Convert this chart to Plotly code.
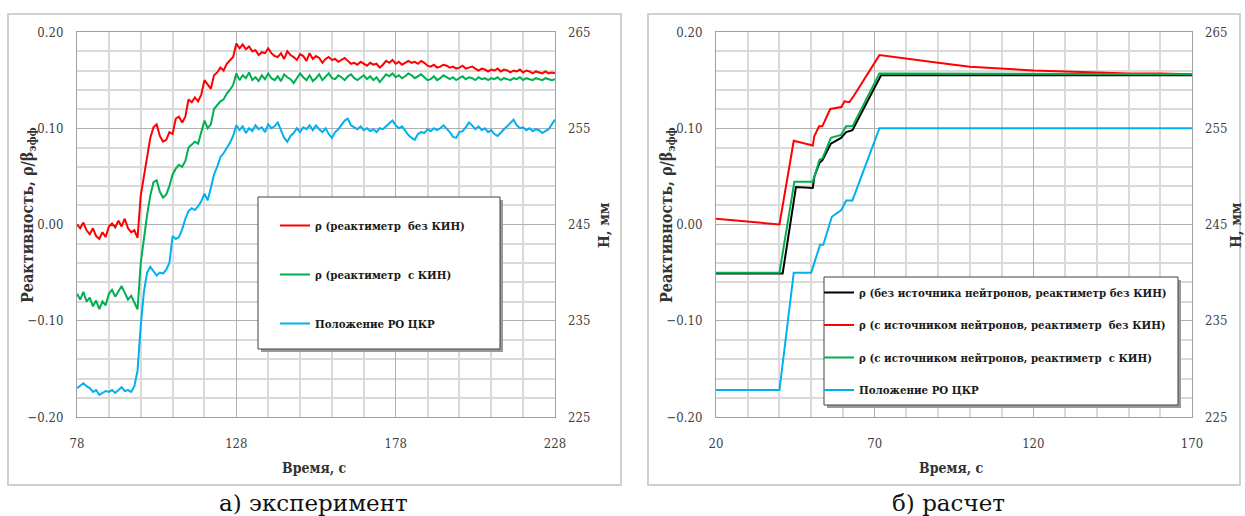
import plotly.graph_objects as go

W, H = 1245, 516

# ---------------- data: (a) experiment ----------------
exp_t_start = 78
exp_red = [
    0.000, -0.004, 0.002, -0.006, -0.010, -0.004, -0.012, -0.015, -0.008, -0.013,
    -0.002, 0.001, -0.003, 0.004, -0.002, 0.006, -0.004, -0.008, -0.006, -0.014,
    0.030, 0.050, 0.072, 0.090, 0.101, 0.104, 0.092, 0.086, 0.088, 0.096,
    0.094, 0.110, 0.112, 0.106, 0.112, 0.130, 0.127, 0.132, 0.128, 0.135,
    0.150, 0.146, 0.141, 0.155, 0.158, 0.163, 0.160, 0.167, 0.170, 0.174,
    0.188, 0.183, 0.187, 0.182, 0.185, 0.180, 0.181, 0.176, 0.179, 0.178,
    0.183, 0.178, 0.175, 0.174, 0.178, 0.172, 0.180, 0.176, 0.174, 0.171,
    0.177, 0.175, 0.170, 0.178, 0.172, 0.175, 0.173, 0.168, 0.172, 0.174,
    0.171, 0.172, 0.169, 0.171, 0.173, 0.170, 0.167, 0.168, 0.166, 0.169,
    0.167, 0.165, 0.168, 0.166, 0.167, 0.163, 0.166, 0.170, 0.168, 0.171,
    0.167, 0.169, 0.166, 0.168, 0.170, 0.168, 0.169, 0.167, 0.170, 0.168,
    0.165, 0.164, 0.166, 0.163, 0.164, 0.166, 0.165, 0.163, 0.164, 0.162,
    0.163, 0.165, 0.162, 0.163, 0.164, 0.162, 0.160, 0.162, 0.161, 0.159,
    0.161, 0.160, 0.162, 0.159, 0.161, 0.160, 0.158, 0.160, 0.159, 0.161,
    0.158, 0.160, 0.159, 0.157, 0.159, 0.158, 0.157, 0.159, 0.157, 0.158,
    0.157,
]
exp_green = [
    -0.072, -0.078, -0.070, -0.080, -0.076, -0.085, -0.079, -0.088, -0.080, -0.084,
    -0.072, -0.068, -0.075, -0.070, -0.064, -0.071, -0.078, -0.074, -0.082, -0.088,
    -0.040, -0.012, 0.010, 0.030, 0.044, 0.046, 0.034, 0.028, 0.031, 0.040,
    0.052, 0.058, 0.062, 0.060, 0.066, 0.080, 0.083, 0.086, 0.084, 0.096,
    0.108, 0.100, 0.104, 0.120, 0.124, 0.128, 0.130, 0.136, 0.140, 0.145,
    0.157, 0.150, 0.155, 0.152, 0.158, 0.150, 0.153, 0.149, 0.155, 0.151,
    0.157, 0.152, 0.150, 0.154, 0.149, 0.156, 0.153, 0.151, 0.147, 0.152,
    0.157, 0.153, 0.150, 0.155, 0.149, 0.152, 0.156, 0.150, 0.154, 0.157,
    0.152, 0.151, 0.155, 0.153, 0.150, 0.154, 0.156, 0.152, 0.150, 0.153,
    0.155, 0.151, 0.154, 0.150, 0.153, 0.148, 0.152, 0.156, 0.154, 0.157,
    0.153, 0.155, 0.152, 0.154, 0.157, 0.155, 0.152, 0.154, 0.156, 0.153,
    0.150, 0.151, 0.154, 0.150, 0.152, 0.155, 0.153, 0.151, 0.153, 0.150,
    0.152, 0.154, 0.151, 0.153, 0.152, 0.150, 0.153, 0.151, 0.152, 0.150,
    0.152, 0.151, 0.153, 0.150, 0.152, 0.151, 0.150, 0.152, 0.151, 0.153,
    0.150, 0.152, 0.151, 0.150, 0.152, 0.151, 0.150, 0.152, 0.151, 0.150,
    0.151,
]
exp_blue_mm = [
    228.0, 228.3, 228.5, 228.2, 228.0, 227.6, 227.8, 227.3, 227.5, 227.7,
    227.6, 227.8, 227.5, 227.8, 228.1, 227.7, 227.8, 227.6, 228.2, 229.8,
    234.5, 238.0, 240.0, 240.6, 240.2, 239.7, 240.0, 239.9, 240.3, 241.0,
    243.8, 243.5, 243.7, 244.5, 245.6, 246.4, 246.7, 246.5, 246.9, 247.4,
    248.2, 247.5, 248.8, 250.2, 251.0, 252.0, 252.4, 252.9, 253.5, 254.2,
    255.3, 254.8, 255.2, 254.5, 255.0, 254.7, 255.3, 254.9, 255.1, 254.6,
    255.4, 255.0, 255.2, 255.6, 254.7, 254.0, 253.6, 254.2, 254.5, 255.0,
    254.6, 255.1, 254.9, 255.3, 254.8, 255.3, 254.9, 254.6, 255.0, 254.4,
    254.0, 254.6, 254.9, 255.3, 255.8, 256.0, 255.3, 255.1, 254.9, 255.2,
    254.8, 255.0, 254.7, 254.9, 254.6, 255.0, 254.9, 255.2, 255.5, 255.8,
    255.3, 255.0, 255.2, 254.7, 254.3, 254.0, 253.8, 254.4, 254.6, 254.5,
    254.9, 254.7, 255.0, 254.8, 255.0, 255.3, 255.0, 254.6, 254.1, 254.0,
    254.6, 254.7, 255.1, 255.6, 255.3, 254.9, 255.2, 254.8, 255.0, 254.6,
    254.8, 254.4, 254.2, 254.6, 254.9, 255.2, 255.5, 255.9, 255.3, 255.0,
    255.1, 254.8, 255.0, 254.7, 254.9, 254.8, 254.5, 254.7, 254.9, 255.4,
    255.9,
]
exp_t = list(range(exp_t_start, exp_t_start + len(exp_red)))

# ---------------- data: (b) calculation ----------------
calc_black_t = [20, 41, 45.2, 50.5, 51.0, 52.6, 53.6, 56.2, 59.4, 61.0, 63.0, 72.0, 170]
calc_black = [-0.051, -0.051, 0.039, 0.038, 0.050, 0.064, 0.067, 0.084, 0.090, 0.096, 0.098, 0.155, 0.155]

calc_red_t = [20, 40, 44.5, 50.5, 51.0, 52.5, 53.5, 56.0, 59.5, 60.5, 62.0, 63.5, 71.5,
              80, 90, 100, 110, 120, 130, 140, 150, 160, 170]
calc_red = [0.006, 0.000, 0.087, 0.082, 0.092, 0.102, 0.102, 0.120, 0.122, 0.128, 0.127, 0.134, 0.176,
            0.172, 0.168, 0.164, 0.162, 0.160, 0.159, 0.158, 0.157, 0.157, 0.156]

calc_green_t = [20, 40, 44.7, 50.5, 51.5, 52.6, 53.6, 56.2, 59.4, 61.0, 63.0, 71.5, 170]
calc_green = [-0.050, -0.050, 0.0445, 0.0445, 0.055, 0.067, 0.069, 0.090, 0.093, 0.102, 0.102, 0.157, 0.156]

calc_blue_t = [20, 40, 44.5, 50, 52.8, 53.8, 56.5, 59.5, 61, 63, 71.5, 170]
calc_blue_mm = [227.8, 227.8, 240.0, 240.0, 242.9, 242.9, 245.8, 246.5, 247.5, 247.5, 255.0, 255.0]

# ---------------- text ----------------
names_a = ["ρ (реактиметр\u00a0 без КИН)", "ρ (реактиметр\u00a0 с КИН)", "Положение РО ЦКР"]
names_b = ["ρ (без источника нейтронов, реактиметр без КИН)",
           "ρ (с источником нейтронов, реактиметр\u00a0 без КИН)",
           "ρ (с источником нейтронов, реактиметр\u00a0 с КИН)",
           "Положение РО ЦКР"]
y_title = "Реактивность, ρ/β<sub>эфф</sub>"
y2_title = "Н, мм"
x_title = "Время, с"
captions = ["а) эксперимент", "б) расчет"]

RED, GREEN, BLUE, BLACK = "#ff0000", "#00b050", "#00b0f0", "#000000"
SERIF = "DejaVu Serif"
COND = "DejaVu Serif Condensed"


def px(x):
    return x / W


def py(y):
    return 1 - y / H


fig = go.Figure()

# panel a traces
fig.add_trace(go.Scatter(x=exp_t, y=exp_red, mode="lines", line=dict(color=RED, width=2),
                         name=names_a[0], xaxis="x", yaxis="y", legend="legend", legendgroup="a1"))
fig.add_trace(go.Scatter(x=exp_t, y=exp_green, mode="lines", line=dict(color=GREEN, width=2),
                         name=names_a[1], xaxis="x", yaxis="y", legend="legend", legendgroup="a2"))
fig.add_trace(go.Scatter(x=exp_t, y=exp_blue_mm, mode="lines", line=dict(color=BLUE, width=2),
                         name=names_a[2], xaxis="x", yaxis="y2", legend="legend", legendgroup="a3"))

# panel b traces
fig.add_trace(go.Scatter(x=calc_black_t, y=calc_black, mode="lines", line=dict(color=BLACK, width=2),
                         name=names_b[0], xaxis="x2", yaxis="y3", legend="legend2", legendgroup="b1"))
fig.add_trace(go.Scatter(x=calc_red_t, y=calc_red, mode="lines", line=dict(color=RED, width=2),
                         name=names_b[1], xaxis="x2", yaxis="y3", legend="legend2", legendgroup="b2"))
fig.add_trace(go.Scatter(x=calc_green_t, y=calc_green, mode="lines", line=dict(color=GREEN, width=2),
                         name=names_b[2], xaxis="x2", yaxis="y3", legend="legend2", legendgroup="b3"))
fig.add_trace(go.Scatter(x=calc_blue_t, y=calc_blue_mm, mode="lines", line=dict(color=BLUE, width=2),
                         name=names_b[3], xaxis="x2", yaxis="y4", legend="legend2", legendgroup="b4"))

TICKFONT = dict(family=COND, size=13, color="#404040")
MAJOR = "#b0b0b0"
MINOR = "#dadada"


def xaxis(dom, rng, tick0, anchor):
    return dict(domain=dom, range=rng, tick0=tick0, dtick=50, showgrid=True, gridcolor=MAJOR,
                gridwidth=1, minor=dict(dtick=10, tick0=tick0, showgrid=True, gridcolor=MINOR, gridwidth=1.5),
                zeroline=False, showline=True, mirror=True, linecolor="#a0a0a0", linewidth=1,
                ticks="", tickfont=TICKFONT, ticklabelstandoff=14, anchor=anchor,
                automargin=False, fixedrange=True)


def yaxis(dom, anchor):
    return dict(domain=dom, range=[-0.2, 0.2], dtick=0.1, tick0=0, tickformat=".2f",
                showgrid=True, gridcolor=MAJOR, gridwidth=1,
                minor=dict(dtick=0.02, showgrid=True, gridcolor=MINOR, gridwidth=1.5),
                zeroline=False, showline=True, mirror=True, linecolor="#a0a0a0", linewidth=1,
                ticks="", tickfont=TICKFONT, ticklabelstandoff=10, anchor=anchor,
                automargin=False, fixedrange=True)


def y2axis(overlay, anchor):
    return dict(range=[225, 265], dtick=10, tick0=225, overlaying=overlay, side="right",
                anchor=anchor, showgrid=False, zeroline=False, showline=False, ticks="",
                tickfont=TICKFONT, ticklabelstandoff=12, automargin=False, fixedrange=True)


ydom = [py(417), py(32)]
LEGFONT = dict(family=COND, size=11.4, color="#1a1a1a", weight="bold")
fig.update_layout(
    width=W, height=H, margin=dict(l=0, r=0, t=0, b=0, autoexpand=False),
    paper_bgcolor="white", plot_bgcolor="white",
    font=dict(family=SERIF),
    xaxis=xaxis([px(77), px(555)], [78, 228], 78, "y"),
    yaxis=yaxis(ydom, "x"),
    yaxis2=y2axis("y", "x"),
    xaxis2=xaxis([px(716), px(1192)], [20, 170], 20, "y3"),
    yaxis3=yaxis(ydom, "x2"),
    yaxis4=y2axis("y3", "x2"),
    legend=dict(x=px(275), y=py(211), xanchor="left", yanchor="top", bgcolor="rgba(0,0,0,0)",
                borderwidth=0, tracegroupgap=30, itemwidth=30, font=LEGFONT),
    legend2=dict(x=px(819), y=py(278), xanchor="left", yanchor="top", bgcolor="rgba(0,0,0,0)",
                 borderwidth=0, tracegroupgap=13.5, itemwidth=30, font=LEGFONT),
    showlegend=True,
)

shapes = []
# outer panel frames
for x0, x1 in [(8, 621), (648, 1240)]:
    shapes.append(dict(type="rect", xref="paper", yref="paper", x0=px(x0), x1=px(x1),
                       y0=py(485), y1=py(14), line=dict(color="#d0d0d0", width=2),
                       fillcolor="rgba(0,0,0,0)", layer="below"))
# legend boxes with shadow
for x0, x1, y0, y1 in [(258, 500, 197, 349), (824, 1178, 277, 405)]:
    shapes.append(dict(type="rect", xref="paper", yref="paper", x0=px(x0 + 3), x1=px(x1 + 3),
                       y0=py(y1 + 3), y1=py(y0 + 3), line=dict(width=0),
                       fillcolor="#9a9a9a", layer="above"))
    shapes.append(dict(type="rect", xref="paper", yref="paper", x0=px(x0), x1=px(x1),
                       y0=py(y1), y1=py(y0), line=dict(color="#404040", width=1),
                       fillcolor="white", layer="above"))
fig.update_layout(shapes=shapes)

ann = []
for xc in (28, 667):
    ann.append(dict(text=y_title, x=px(xc), y=py(215), xref="paper", yref="paper",
                    textangle=-90, showarrow=False,
                    font=dict(family=COND, size=16, color="#333333", weight="bold"),
                    xanchor="center", yanchor="middle"))
for xc in (604, 1236):
    ann.append(dict(text=y2_title, x=px(xc), y=py(225), xref="paper", yref="paper",
                    textangle=-90, showarrow=False,
                    font=dict(family=COND, size=15, color="#333333", weight="bold"),
                    xanchor="center", yanchor="middle"))
for xc in (314, 951):
    ann.append(dict(text=x_title, x=px(xc), y=py(468), xref="paper", yref="paper",
                    showarrow=False, font=dict(family=COND, size=14, color="#333333", weight="bold"),
                    xanchor="center", yanchor="middle"))
for xc, cap in zip((313, 949), captions):
    ann.append(dict(text=cap, x=px(xc), y=py(503), xref="paper", yref="paper",
                    showarrow=False, font=dict(family=SERIF, size=23, color="#111111"),
                    xanchor="center", yanchor="middle"))
fig.update_layout(annotations=ann)

fig.write_html("out.html")
